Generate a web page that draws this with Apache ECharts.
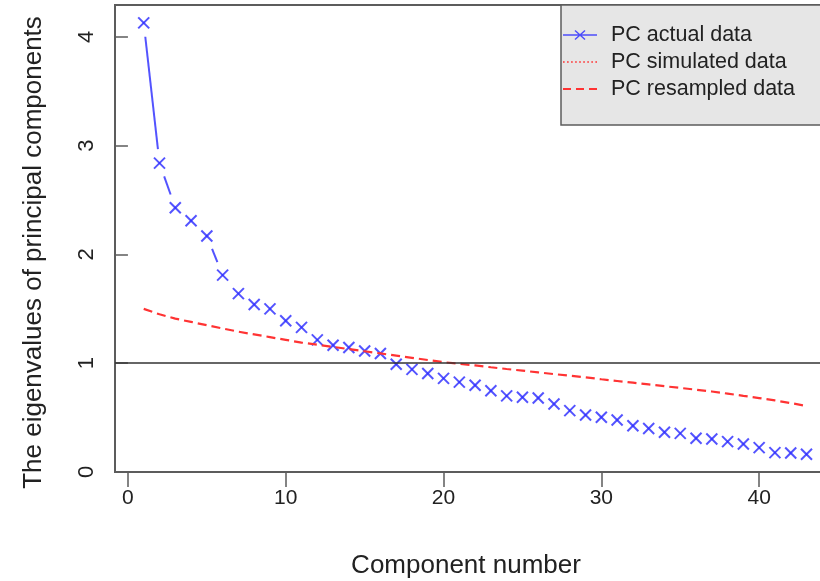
<!DOCTYPE html>
<html>
<head>
<meta charset="utf-8">
<script src="https://cdn.jsdelivr.net/npm/echarts@6/dist/echarts.min.js"></script>
<style>
  html, body { margin: 0; padding: 0; background: #ffffff; }
  #chart { width: 820px; height: 581px; }
</style>
</head>
<body>
<div id="chart"></div>
<script>
// Scree plot: eigenvalues of the actual data against resampled eigenvalues.
const componentNumbers = [1, 2, 3, 4, 5, 6, 7, 8, 9, 10, 11, 12, 13, 14, 15, 16, 17, 18, 19, 20, 21,
  22, 23, 24, 25, 26, 27, 28, 29, 30, 31, 32, 33, 34, 35, 36, 37, 38, 39, 40, 41, 42, 43];

const actualValues = [4.13, 2.84, 2.43, 2.31, 2.17, 1.81, 1.64, 1.54, 1.50, 1.39, 1.33, 1.215, 1.165,
  1.145, 1.113, 1.09, 0.99, 0.944, 0.905, 0.861, 0.826, 0.797, 0.747, 0.70, 0.687, 0.68, 0.625,
  0.564, 0.524, 0.503, 0.478, 0.426, 0.40, 0.365, 0.355, 0.31, 0.303, 0.279, 0.257, 0.224, 0.178,
  0.175, 0.163];

const simulatedValues = [];

const resampledValues = [1.50, 1.45, 1.41, 1.38, 1.35, 1.32, 1.29, 1.265, 1.24, 1.215, 1.19, 1.17,
  1.15, 1.13, 1.11, 1.09, 1.07, 1.05, 1.03, 1.01, 0.995, 0.98, 0.963, 0.947, 0.932, 0.916, 0.90,
  0.885, 0.87, 0.853, 0.837, 0.821, 0.805, 0.789, 0.773, 0.757, 0.74, 0.721, 0.70, 0.68, 0.658,
  0.634, 0.607];

const xTicks = [0, 10, 20, 30, 40];
const yTicks = [0, 1, 2, 3, 4];
const seriesNames = ['PC actual data', 'PC simulated data', 'PC resampled data'];

const BLUE = 'rgba(45, 45, 255, 0.82)';
const RED = '#ff3333';
const FONT = '"Liberation Sans", Arial, sans-serif';
const MARK_HALF = 5.5;   // half width of each x marker, px
const LINE_GAP = 14;     // clearance left around markers by the connecting line, px

const actualData = actualValues.map((v, i) => {
  const j = Math.min(i + 1, actualValues.length - 1);
  return [componentNumbers[i], v, componentNumbers[j], actualValues[j]];
});

function renderActual(params, api) {
  const p = api.coord([api.value(0), api.value(1)]);
  const style = { stroke: BLUE, lineWidth: 2 };
  const children = [
    { type: 'line', shape: { x1: p[0] - MARK_HALF, y1: p[1] - MARK_HALF, x2: p[0] + MARK_HALF, y2: p[1] + MARK_HALF }, style: style },
    { type: 'line', shape: { x1: p[0] - MARK_HALF, y1: p[1] + MARK_HALF, x2: p[0] + MARK_HALF, y2: p[1] - MARK_HALF }, style: style }
  ];
  if (params.dataIndex < actualValues.length - 1) {
    const q = api.coord([api.value(2), api.value(3)]);
    const dx = q[0] - p[0], dy = q[1] - p[1];
    const len = Math.hypot(dx, dy);
    if (len > 2 * LINE_GAP + 1) {
      const ux = dx / len, uy = dy / len;
      children.push({
        type: 'line',
        shape: { x1: p[0] + ux * LINE_GAP, y1: p[1] + uy * LINE_GAP, x2: q[0] - ux * LINE_GAP, y2: q[1] - uy * LINE_GAP },
        style: style
      });
    }
  }
  return { type: 'group', children: children };
}

// legend glyphs
const ICON_ACTUAL = 'path://M0,4.3L34,4.3L34,5.7L0,5.7Z' +
  'M11.5,1L12.5,0L22.5,9L21.5,10Z M21.5,0L22.5,1L12.5,10L11.5,9Z';
const ICON_DOTTED = 'path://M0,0h1.6v1.6h-1.6Z M4,0h1.6v1.6h-1.6Z M8,0h1.6v1.6h-1.6Z M12,0h1.6v1.6h-1.6Z' +
  'M16,0h1.6v1.6h-1.6Z M20,0h1.6v1.6h-1.6Z M24,0h1.6v1.6h-1.6Z M28,0h1.6v1.6h-1.6Z M32,0h1.6v1.6h-1.6Z';
const ICON_DASHED = 'path://M0,0h8v2h-8Z M13,0h8v2h-8Z M26,0h8v2h-8Z';

const chart = echarts.init(document.getElementById('chart'), null, { renderer: 'canvas' });

chart.setOption({
  backgroundColor: '#ffffff',
  animation: false,
  grid: {
    left: 115, top: 5, right: -13, bottom: 109,
    outerBoundsMode: 'none',
    show: true, borderColor: '#5c5c5c', borderWidth: 2, backgroundColor: 'transparent'
  },
  legend: {
    orient: 'vertical', left: 561, top: 5,
    itemWidth: 34, itemHeight: 14, itemGap: 5,
    padding: [19, 40, 25, 2],
    backgroundColor: '#e6e6e6', borderColor: '#5c5c5c', borderWidth: 1.5, borderRadius: 0,
    textStyle: { fontFamily: FONT, fontSize: 21.5, color: '#222222', padding: [0, 0, 0, 9] },
    selectedMode: false,
    data: [
      { name: seriesNames[0], icon: ICON_ACTUAL, itemStyle: { color: BLUE, borderWidth: 0 } },
      { name: seriesNames[1], icon: ICON_DOTTED, itemStyle: { color: RED, borderWidth: 0 } },
      { name: seriesNames[2], icon: ICON_DASHED, itemStyle: { color: RED, borderWidth: 0 } }
    ]
  },
  xAxis: {
    type: 'value', min: -0.82, max: 44.68,
    name: 'Component number', nameLocation: 'middle', nameGap: 81,
    nameTextStyle: { fontFamily: FONT, fontSize: 26, color: '#222222', padding: [0, 16, 0, 0] },
    axisLine: { show: false },
    splitLine: { show: false },
    axisTick: { show: true, length: 15, customValues: xTicks, lineStyle: { color: '#5c5c5c', width: 1.5 } },
    axisLabel: { customValues: xTicks, margin: 16, fontFamily: FONT, fontSize: 21, color: '#222222' }
  },
  yAxis: {
    type: 'value', min: 0, max: 4.294,
    name: 'The eigenvalues of principal components', nameLocation: 'middle', nameGap: 68, nameRotate: 90,
    nameTextStyle: { fontFamily: FONT, fontSize: 26, color: '#222222', padding: [0, 28, 0, 0] },
    axisLine: { show: false },
    splitLine: { show: false },
    axisTick: { show: true, length: 13, customValues: yTicks, lineStyle: { color: '#5c5c5c', width: 1.5 } },
    axisLabel: { customValues: yTicks, rotate: 90, margin: 17, fontFamily: FONT, fontSize: 22, color: '#222222' }
  },
  series: [
    {
      name: seriesNames[1], type: 'line', data: simulatedValues.map((v, i) => [componentNumbers[i], v]),
      symbol: 'none', color: RED, lineStyle: { color: RED, width: 1.5, type: [2, 3] }
    },
    {
      name: seriesNames[2], type: 'line', data: resampledValues.map((v, i) => [componentNumbers[i], v]),
      symbol: 'none', color: RED, lineStyle: { color: RED, width: 2.2, type: [9, 5] },
      markLine: {
        silent: true, symbol: 'none', label: { show: false },
        lineStyle: { color: '#333333', width: 1.5, type: 'solid' },
        data: [{ yAxis: 1 }]
      }
    },
    {
      name: seriesNames[0], type: 'custom', data: actualData, color: BLUE,
      encode: { x: 0, y: 1 }, renderItem: renderActual, z: 3
    }
  ]
});
</script>
</body>
</html>
